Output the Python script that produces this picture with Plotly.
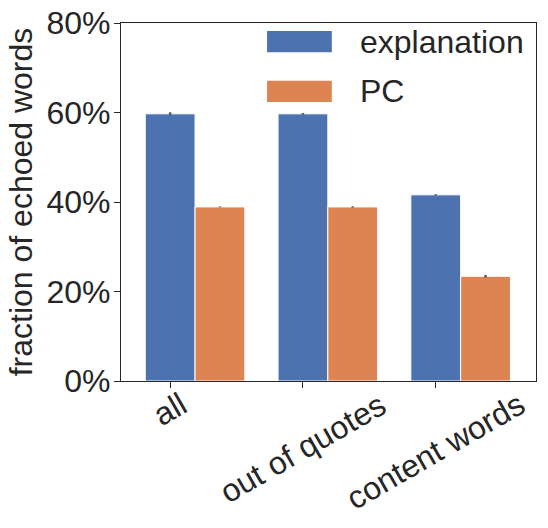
import plotly.graph_objects as go

# Data
categories = ["all", "out of quotes", "content words"]
explanation = [59.7, 59.7, 41.6]
explanation_err = [0.35, 0.2, 0.15]
pc = [38.9, 38.9, 23.4]
pc_err = [0.1, 0.15, 0.3]
yticks = [0, 20, 40, 60, 80]

blue = "#4C72B0"
orange = "#DD8452"
font = "Liberation Sans"
text_color = "#262626"
xpos = list(range(len(categories)))

fig = go.Figure()
fig.add_trace(go.Bar(
    x=xpos, y=explanation, name="explanation", width=0.375, offset=-0.1875,
    marker=dict(color=blue, line=dict(color="white", width=1)),
    error_y=dict(type="data", array=explanation_err, color="#5a5a5a", thickness=2.5, width=0),
    showlegend=False,
))
fig.add_trace(go.Bar(
    x=xpos, y=pc, name="PC", width=0.375, offset=0.1875,
    marker=dict(color=orange, line=dict(color="white", width=1)),
    error_y=dict(type="data", array=pc_err, color="#5a5a5a", thickness=2.5, width=0),
    showlegend=False,
))

# Legend drawn by hand to get the big patches
for i, (name, color) in enumerate([("explanation", blue), ("PC", orange)]):
    y0 = 0.978 - i * 0.139
    fig.add_shape(type="rect", xref="paper", yref="paper",
                  x0=0.352, x1=0.508, y0=y0 - 0.06, y1=y0,
                  fillcolor=color, line=dict(width=0))
    fig.add_annotation(xref="paper", yref="paper", x=0.572, y=y0 - 0.03,
                       text=name, showarrow=False, xanchor="left", yanchor="middle",
                       font=dict(size=32, color=text_color, family=font))

# Rotated, centred category labels
for x, label in zip(xpos, categories):
    fig.add_annotation(x=x, xref="x", y=0, yref="paper", yshift=-2,
                       text=label, textangle=-30, showarrow=False,
                       xanchor="center", yanchor="top",
                       font=dict(size=32, color=text_color, family=font))

fig.update_layout(
    width=548, height=528,
    margin=dict(l=121, r=12, t=23, b=147),
    plot_bgcolor="white", paper_bgcolor="white",
    font=dict(family=font, size=32, color=text_color),
    xaxis=dict(
        range=[-0.37, 2.755], tickvals=xpos, showticklabels=False,
        showline=True, linecolor=text_color, linewidth=1.2, mirror=True,
        ticks="outside", ticklen=6, tickcolor=text_color, showgrid=False,
        zeroline=False, automargin=False,
    ),
    yaxis=dict(
        range=[0, 80], tickvals=yticks, ticktext=[f"{v}%" for v in yticks],
        showline=True, linecolor=text_color, linewidth=1.2, mirror=True,
        ticks="outside", ticklen=6, tickcolor=text_color,
        showgrid=False, zeroline=False, automargin=False,
        ticklabelstandoff=-3,
        title=dict(text="fraction of echoed words", font=dict(size=32), standoff=4),
        tickfont=dict(size=32),
    ),
)

fig.write_html("out.html", config={"displayModeBar": False},
               post_script="document.body.style.margin='0';")
